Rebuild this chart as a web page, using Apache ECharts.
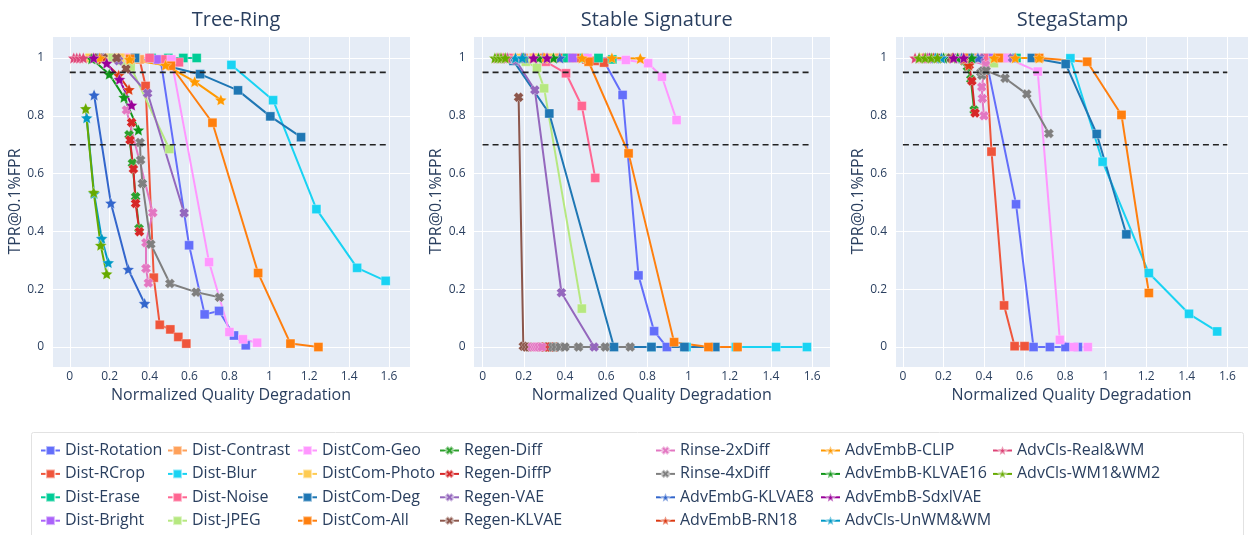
<!DOCTYPE html>
<html><head><meta charset="utf-8">
<script src="https://cdn.jsdelivr.net/npm/echarts@6/dist/echarts.min.js"></script>
<style>html,body{margin:0;padding:0;background:#fff}#c{width:1248px;height:535px}</style>
</head><body><div id="c"></div>
<script>
// ---------------- DATA ----------------
const seriesNames = ['Dist-Rotation','Dist-RCrop','Dist-Erase','Dist-Bright','Dist-Contrast','Dist-Blur','Dist-Noise','Dist-JPEG',
  'DistCom-Geo','DistCom-Photo','DistCom-Deg','DistCom-All','Regen-Diff','Regen-DiffP','Regen-VAE','Regen-KLVAE',
  'Rinse-2xDiff','Rinse-4xDiff','AdvEmbG-KLVAE8','AdvEmbB-RN18','AdvEmbB-CLIP','AdvEmbB-KLVAE16','AdvEmbB-SdxlVAE',
  'AdvCls-UnWM&WM','AdvCls-Real&WM','AdvCls-WM1&WM2'];
const panelTitles = ['Tree-Ring','Stable Signature','StegaStamp'];
const xAxisTitle = 'Normalized Quality Degradation';
const yAxisTitle = 'TPR@0.1%FPR';
const thresholdLevels = [0.95, 0.7];
const thresholdSpan = [0, 1.6];

// Each entry: [x = normalized quality degradation, y = TPR@0.1%FPR], series in the order of seriesNames
const treeRing = [
  [[0.2,1],[0.33,1],[0.455,0.995],[0.598,0.352],[0.676,0.113],[0.748,0.125],[0.823,0.04],[0.882,0.006]],
  [[0.25,1],[0.35,0.995],[0.38,0.903],[0.421,0.24],[0.451,0.077],[0.504,0.061],[0.544,0.035],[0.584,0.012]],
  [[0.33,1],[0.41,1],[0.494,1],[0.569,1],[0.636,1]],
  [[0.2,1],[0.3,1],[0.44,0.995]],
  [[0.12,1],[0.2,1],[0.28,1],[0.35,0.995]],
  [[0.81,0.976],[1.019,0.854],[1.236,0.477],[1.44,0.274],[1.583,0.229]],
  [[0.15,1],[0.3,1],[0.4,1],[0.48,0.995],[0.547,0.985]],
  [[0.1,1],[0.21,1],[0.264,0.99],[0.305,0.97],[0.499,0.685]],
  [[0.3,1],[0.509,0.995],[0.698,0.294],[0.8,0.052],[0.868,0.027],[0.939,0.015]],
  [[0.1,1],[0.17,1],[0.25,1],[0.33,1]],
  [[0.15,1],[0.327,1],[0.653,0.944],[0.843,0.888],[1.005,0.798],[1.159,0.726]],
  [[0.302,0.997],[0.507,0.973],[0.715,0.776],[0.944,0.256],[1.106,0.012],[1.246,0.0]],
  [[0.297,0.734],[0.314,0.636],[0.33,0.52],[0.347,0.41]],
  [[0.31,0.777],[0.302,0.716],[0.319,0.616],[0.33,0.497],[0.349,0.399]],
  [[0.16,1],[0.245,0.99],[0.39,0.878],[0.573,0.464]],
  [[0.12,1],[0.168,1],[0.235,1],[0.282,0.962]],
  [[0.284,0.82],[0.416,0.465],[0.382,0.361],[0.382,0.272],[0.394,0.222]],
  [[0.352,0.708],[0.355,0.647],[0.364,0.566],[0.406,0.356],[0.502,0.22],[0.633,0.19],[0.75,0.172]],
  [[0.122,0.872],[0.206,0.498],[0.293,0.269],[0.375,0.151]],
  [[0.16,0.995],[0.245,0.94],[0.297,0.891]],
  [[0.15,1],[0.3,0.995],[0.48,0.975],[0.626,0.918],[0.757,0.855]],
  [[0.11,0.997],[0.198,0.944],[0.272,0.864],[0.344,0.751]],
  [[0.12,1],[0.185,0.982],[0.249,0.926],[0.31,0.837]],
  [[0.085,0.793],[0.122,0.531],[0.16,0.376],[0.193,0.292]],
  [[0.02,1],[0.035,1],[0.05,1],[0.068,1]],
  [[0.08,0.825],[0.12,0.535],[0.155,0.352],[0.185,0.253]]
];
const stableSignature = [
  [[0.25,1],[0.4,1],[0.591,0.987],[0.68,0.872],[0.757,0.248],[0.833,0.055],[0.895,0.0]],
  [[0.25,1],[0.35,1],[0.38,1],[0.421,1],[0.451,1],[0.504,0.995],[0.544,0.99],[0.59,0.984]],
  [[0.33,1],[0.41,1],[0.494,1],[0.563,1],[0.63,0.995]],
  [[0.2,1],[0.3,1],[0.437,1]],
  [[0.12,1],[0.2,1],[0.28,1],[0.35,1]],
  [[0.82,0],[0.99,0],[1.23,0],[1.425,0],[1.575,0]],
  [[0.15,1],[0.307,0.987],[0.405,0.947],[0.482,0.834],[0.547,0.585]],
  [[0.1,1],[0.21,0.987],[0.264,0.966],[0.299,0.895],[0.482,0.133]],
  [[0.3,1],[0.51,1],[0.696,0.993],[0.804,0.982],[0.871,0.935],[0.942,0.785]],
  [[0.1,1],[0.17,1],[0.25,1],[0.33,1]],
  [[0.15,0.99],[0.324,0.808],[0.638,0],[0.82,0],[0.98,0],[1.13,0]],
  [[0.3,1],[0.515,0.987],[0.709,0.67],[0.93,0.017],[1.097,0],[1.238,0]],
  [[0.28,0],[0.297,0],[0.314,0],[0.33,0],[0.347,0]],
  [[0.285,0],[0.302,0],[0.319,0],[0.33,0],[0.349,0]],
  [[0.162,0.991],[0.254,0.889],[0.383,0.188],[0.542,0]],
  [[0.175,0.864],[0.198,0.003],[0.212,0],[0.225,0]],
  [[0.24,0],[0.255,0],[0.265,0],[0.275,0],[0.288,0]],
  [[0.34,0],[0.355,0],[0.375,0],[0.4,0],[0.466,0],[0.596,0],[0.717,0]],
  [[0.122,1],[0.206,1],[0.293,1],[0.375,1]],
  [[0.16,1],[0.245,1],[0.297,1]],
  [[0.3,1],[0.483,1],[0.628,1],[0.766,0.998]],
  [[0.11,1],[0.198,1],[0.272,1],[0.344,1]],
  [[0.12,1],[0.19,1],[0.248,1],[0.313,1]],
  [[0.085,1],[0.122,1],[0.16,1],[0.193,1]],
  [[0.07,1],[0.085,1],[0.1,1],[0.12,1]],
  [[0.06,1],[0.075,1],[0.09,1],[0.11,1]]
];
const stegaStamp = [
  [[0.2,1],[0.3,1],[0.41,0.995],[0.558,0.494],[0.644,0],[0.725,0],[0.802,0],[0.863,0]],
  [[0.25,1],[0.35,1],[0.41,0.99],[0.437,0.676],[0.499,0.144],[0.551,0.003],[0.6,0.003]],
  [[0.33,1],[0.41,1],[0.49,1],[0.56,1]],
  [[0.2,1],[0.3,1],[0.43,1]],
  [[0.12,1],[0.2,1],[0.28,1],[0.35,1]],
  [[0.826,0.999],[0.985,0.641],[1.213,0.256],[1.411,0.115],[1.55,0.054]],
  [[0.15,1],[0.3,1],[0.4,1],[0.47,1],[0.514,1]],
  [[0.1,1],[0.21,1],[0.264,1],[0.3,0.995],[0.449,0.982]],
  [[0.3,1],[0.514,1],[0.665,0.953],[0.774,0.025],[0.844,0],[0.912,0]],
  [[0.1,1],[0.17,1],[0.25,1],[0.33,1]],
  [[0.15,1],[0.33,1],[0.636,1],[0.803,0.979],[0.956,0.737],[1.102,0.39]],
  [[0.3,1],[0.473,1],[0.672,1],[0.909,0.987],[1.078,0.803],[1.213,0.187]],
  [[0.28,1],[0.3,0.99],[0.318,0.97],[0.335,0.926],[0.351,0.82]],
  [[0.28,1],[0.3,0.995],[0.327,0.975],[0.34,0.92],[0.356,0.81]],
  [[0.16,1],[0.25,1],[0.38,1],[0.54,1]],
  [[0.12,1],[0.168,1],[0.235,1],[0.282,1]],
  [[0.28,1],[0.408,0.976],[0.389,0.9],[0.392,0.86],[0.4,0.8]],
  [[0.385,0.95],[0.39,0.94],[0.395,0.955],[0.41,0.956],[0.504,0.93],[0.611,0.875],[0.72,0.739]],
  [[0.12,1],[0.2,1],[0.29,1],[0.37,1]],
  [[0.15,1],[0.245,1],[0.3,0.995],[0.325,0.975]],
  [[0.3,1],[0.45,1],[0.554,1],[0.672,1]],
  [[0.11,1],[0.2,1],[0.27,1],[0.34,1]],
  [[0.13,1],[0.19,1],[0.25,1],[0.3,1]],
  [[0.08,1],[0.12,1],[0.16,1],[0.19,1]],
  [[0.06,1],[0.08,1],[0.1,1],[0.12,1]],
  [[0.08,1],[0.11,1],[0.14,1],[0.17,1]]
];
const panelData = [treeRing, stableSignature, stegaStamp];

// ---------------- STYLE ----------------
const colors = ['#636EFA','#EF553B','#00CC96','#AB63FA','#FFA15A','#19D3F3','#FF6692','#B6E880','#FF97FF','#FECB52','#1F77B4','#FF7F0E',
  '#2CA02C','#D62728','#9467BD','#8C564B','#E377C2','#7F7F7F',
  '#3366CC','#DC3912','#FF9900','#109618','#990099','#0099C6','#DD4477','#66AA00'];
const kinds = seriesNames.map((n,i)=> i<12 ? 'sq' : (i<18 ? 'x' : 'star'));
const SYM = {
  sq: {symbol:'rect', size:9},
  x: {symbol:'path://M0,3 L3,0 L5,2 L7,0 L10,3 L8,5 L10,7 L7,10 L5,8 L3,10 L0,7 L2,5 Z', size:10},
  star: {symbol:'path://M0,-10 L2.76,-3.8 L9.511,-3.09 L4.47,1.45 L5.878,8.09 L0,4.7 L-5.878,8.09 L-4.47,1.45 L-9.511,-3.09 L-2.76,-3.8 Z', size:12}
};
const grids = [
  {left:52, top:36, width:358, height:331},
  {left:473.5, top:36, width:356.5, height:331},
  {left:895, top:36, width:357, height:331}
];
const xRanges = [[-0.089,1.705],[-0.044,1.687],[-0.039,1.702]];
const yRange = [-0.069,1.076];
const FONT = '"Open Sans", "Noto Sans", sans-serif';
const TXT = '#2a3f5f';

function tickFmt(v){
  const k = v/0.2;
  if (Math.abs(k-Math.round(k))>1e-6) return '';
  const r = Math.round(v*10)/10;
  return String(r);
}

const option = {
  animation:false,
  backgroundColor:'#fff',
  textStyle:{fontFamily:FONT},
  title: panelTitles.map((t,i)=>({text:t, left:grids[i].left+grids[i].width/2 - (i===2?6:0), top:5, textAlign:'center',
    textStyle:{fontFamily:FONT, fontSize:20, fontWeight:'normal', color:TXT}})),
  grid: grids.map(g=>Object.assign({show:true, backgroundColor:'#E5ECF6', borderWidth:0}, g)),
  xAxis: grids.map((g,i)=>({type:'value', gridIndex:i, min:xRanges[i][0], max:xRanges[i][1], minInterval:0.2, maxInterval:0.2,
    splitNumber:8, name:xAxisTitle, nameLocation:'middle', nameGap:19,
    nameTextStyle:{fontFamily:FONT, fontSize:16, color:TXT},
    axisLine:{show:false}, axisTick:{show:false},
    axisLabel:{formatter:tickFmt, showMinLabel:false, showMaxLabel:false, fontFamily:FONT, fontSize:12, color:TXT, margin:4},
    splitLine:{show:true, lineStyle:{color:'#ffffff', width:1}}})),
  yAxis: grids.map((g,i)=>({type:'value', gridIndex:i, min:yRange[0], max:yRange[1], minInterval:0.2, maxInterval:0.2,
    splitNumber:6, name:yAxisTitle, nameLocation:'middle', nameGap:19,
    nameTextStyle:{fontFamily:FONT, fontSize:16, color:TXT},
    axisLine:{show:false}, axisTick:{show:false},
    axisLabel:{formatter:tickFmt, showMinLabel:false, showMaxLabel:false, fontFamily:FONT, fontSize:12, color:TXT, margin:8},
    splitLine:{show:true, lineStyle:{color:'#ffffff', width:1}}})),
  legend: [40,167,297,439,655,820,992].map((left,c)=>({
    data: seriesNames.slice(c*4, c*4+4), orient:'vertical', left:left, top:441.5, height:110, padding:0,
    itemWidth:19, itemHeight:11, itemGap:5.4, selectedMode:false,
    textStyle:{fontFamily:FONT, fontSize:16, color:TXT, lineHeight:18}
  })),
  graphic:[{type:'rect', shape:{x:31.5, y:432.5, width:1212, height:120, r:2}, style:{fill:'none', stroke:'#E2E2E2', lineWidth:1}, z:-1}],
  series: []
};

panelData.forEach((pd,p)=>{
  pd.forEach((pts,i)=>{
    const s = SYM[kinds[i]];
    option.series.push({
      type:'line', name:seriesNames[i], xAxisIndex:p, yAxisIndex:p, data:pts,
      symbol:s.symbol, symbolSize:s.size, symbolKeepAspect:true,
      lineStyle:{color:colors[i], width:2},
      itemStyle:{color:colors[i], borderColor:'rgba(255,255,255,0.5)', borderWidth:0.6},
      emphasis:{disabled:true}, silent:true
    });
  });
  thresholdLevels.forEach(th=>{
    option.series.push({
      type:'line', name:'thr', xAxisIndex:p, yAxisIndex:p,
      data:[[thresholdSpan[0],th],[thresholdSpan[1],th]], symbol:'none',
      lineStyle:{color:'#222', width:1.6, type:[6,4]}, silent:true, z:5
    });
  });
});

const chart = echarts.init(document.getElementById('c'), null, {renderer:'canvas'});
chart.setOption(option);
</script></body></html>
